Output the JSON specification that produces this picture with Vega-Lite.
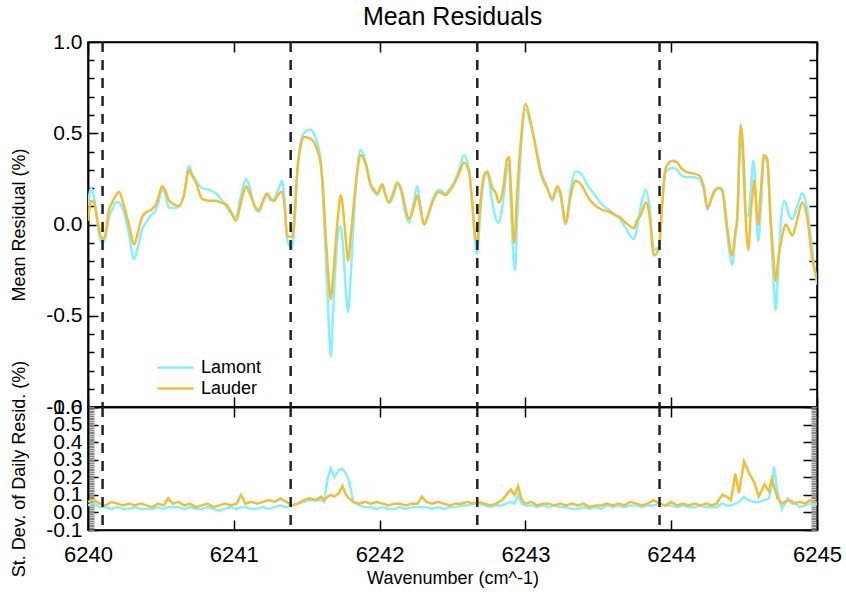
{
  "$schema": "https://vega.github.io/schema/vega-lite/v6.json",
  "title": {"text": "Mean Residuals", "fontSize": 25, "font": "Liberation Sans", "fontWeight": "normal", "color": "black", "offset": 0, "anchor": "middle", "frame": "group"},
  "padding": {"left": 10, "top": 5, "right": 20, "bottom": 5},
  "spacing": 0,
  "bounds": "flush",
  "background": "white",
  "config": {
    "font": "Liberation Sans",
    "view": {"stroke": "black", "strokeWidth": 1.5},
    "axis": {"domainColor": "black", "tickColor": "black", "labelColor": "black", "titleColor": "black", "labelFontSize": 21, "titleFontSize": 18, "titleFontWeight": "normal", "grid": false, "tickSize": -10, "labelPadding": 16, "domainWidth": 1.5, "tickWidth": 1.5, "labelFlush": false, "labelOverlap": false}
  },
  "datasets": {
    "mean": [
      {"w": 6240.000, "Lauder": 0.02, "Lamont": 0.10},
      {"w": 6240.021, "Lauder": 0.13, "Lamont": 0.20},
      {"w": 6240.041, "Lauder": 0.12, "Lamont": 0.15},
      {"w": 6240.075, "Lauder": -0.02, "Lamont": -0.05},
      {"w": 6240.096, "Lauder": -0.08, "Lamont": -0.10},
      {"w": 6240.117, "Lauder": -0.06, "Lamont": -0.08},
      {"w": 6240.144, "Lauder": 0.08, "Lamont": 0.04},
      {"w": 6240.165, "Lauder": 0.12, "Lamont": 0.08},
      {"w": 6240.192, "Lauder": 0.16, "Lamont": 0.12},
      {"w": 6240.213, "Lauder": 0.18, "Lamont": 0.12},
      {"w": 6240.240, "Lauder": 0.12, "Lamont": 0.08},
      {"w": 6240.281, "Lauder": 0.00, "Lamont": -0.05},
      {"w": 6240.316, "Lauder": -0.11, "Lamont": -0.19},
      {"w": 6240.343, "Lauder": -0.04, "Lamont": -0.12},
      {"w": 6240.370, "Lauder": 0.04, "Lamont": -0.03},
      {"w": 6240.405, "Lauder": 0.07, "Lamont": 0.02},
      {"w": 6240.432, "Lauder": 0.08, "Lamont": 0.05},
      {"w": 6240.466, "Lauder": 0.11, "Lamont": 0.08},
      {"w": 6240.487, "Lauder": 0.16, "Lamont": 0.13},
      {"w": 6240.508, "Lauder": 0.21, "Lamont": 0.20},
      {"w": 6240.528, "Lauder": 0.19, "Lamont": 0.17},
      {"w": 6240.556, "Lauder": 0.13, "Lamont": 0.09},
      {"w": 6240.590, "Lauder": 0.11, "Lamont": 0.09},
      {"w": 6240.624, "Lauder": 0.10, "Lamont": 0.10},
      {"w": 6240.658, "Lauder": 0.16, "Lamont": 0.16},
      {"w": 6240.693, "Lauder": 0.30, "Lamont": 0.32},
      {"w": 6240.713, "Lauder": 0.27, "Lamont": 0.28},
      {"w": 6240.741, "Lauder": 0.23, "Lamont": 0.24},
      {"w": 6240.782, "Lauder": 0.14, "Lamont": 0.20},
      {"w": 6240.830, "Lauder": 0.13, "Lamont": 0.19},
      {"w": 6240.878, "Lauder": 0.13, "Lamont": 0.17},
      {"w": 6240.912, "Lauder": 0.12, "Lamont": 0.14},
      {"w": 6240.947, "Lauder": 0.11, "Lamont": 0.10},
      {"w": 6240.981, "Lauder": 0.07, "Lamont": 0.06},
      {"w": 6241.015, "Lauder": 0.02, "Lamont": 0.04},
      {"w": 6241.049, "Lauder": 0.12, "Lamont": 0.16},
      {"w": 6241.084, "Lauder": 0.21, "Lamont": 0.25},
      {"w": 6241.104, "Lauder": 0.18, "Lamont": 0.22},
      {"w": 6241.125, "Lauder": 0.14, "Lamont": 0.15},
      {"w": 6241.152, "Lauder": 0.09, "Lamont": 0.08},
      {"w": 6241.173, "Lauder": 0.08, "Lamont": 0.07},
      {"w": 6241.200, "Lauder": 0.13, "Lamont": 0.12},
      {"w": 6241.228, "Lauder": 0.17, "Lamont": 0.16},
      {"w": 6241.255, "Lauder": 0.14, "Lamont": 0.13},
      {"w": 6241.276, "Lauder": 0.13, "Lamont": 0.14},
      {"w": 6241.310, "Lauder": 0.17, "Lamont": 0.20},
      {"w": 6241.331, "Lauder": 0.18, "Lamont": 0.24},
      {"w": 6241.351, "Lauder": 0.08, "Lamont": 0.10},
      {"w": 6241.365, "Lauder": -0.06, "Lamont": -0.08},
      {"w": 6241.399, "Lauder": -0.07, "Lamont": -0.13},
      {"w": 6241.420, "Lauder": 0.10, "Lamont": 0.05},
      {"w": 6241.433, "Lauder": 0.27, "Lamont": 0.25},
      {"w": 6241.459, "Lauder": 0.43, "Lamont": 0.45},
      {"w": 6241.481, "Lauder": 0.48, "Lamont": 0.50},
      {"w": 6241.527, "Lauder": 0.47, "Lamont": 0.52},
      {"w": 6241.562, "Lauder": 0.43, "Lamont": 0.47},
      {"w": 6241.596, "Lauder": 0.33, "Lamont": 0.35},
      {"w": 6241.612, "Lauder": 0.20, "Lamont": 0.15},
      {"w": 6241.630, "Lauder": -0.06, "Lamont": -0.15},
      {"w": 6241.646, "Lauder": -0.25, "Lamont": -0.45},
      {"w": 6241.665, "Lauder": -0.41, "Lamont": -0.72},
      {"w": 6241.680, "Lauder": -0.30, "Lamont": -0.50},
      {"w": 6241.699, "Lauder": -0.10, "Lamont": -0.20},
      {"w": 6241.715, "Lauder": 0.05, "Lamont": -0.05},
      {"w": 6241.733, "Lauder": 0.16, "Lamont": -0.01},
      {"w": 6241.756, "Lauder": 0.03, "Lamont": -0.20},
      {"w": 6241.770, "Lauder": -0.10, "Lamont": -0.38},
      {"w": 6241.783, "Lauder": -0.20, "Lamont": -0.48},
      {"w": 6241.804, "Lauder": -0.05, "Lamont": -0.25},
      {"w": 6241.824, "Lauder": 0.12, "Lamont": 0.05},
      {"w": 6241.845, "Lauder": 0.28, "Lamont": 0.28},
      {"w": 6241.870, "Lauder": 0.38, "Lamont": 0.41},
      {"w": 6241.905, "Lauder": 0.33, "Lamont": 0.34},
      {"w": 6241.939, "Lauder": 0.22, "Lamont": 0.21},
      {"w": 6241.962, "Lauder": 0.19, "Lamont": 0.18},
      {"w": 6241.984, "Lauder": 0.17, "Lamont": 0.16},
      {"w": 6242.019, "Lauder": 0.22, "Lamont": 0.22},
      {"w": 6242.037, "Lauder": 0.17, "Lamont": 0.17},
      {"w": 6242.064, "Lauder": 0.12, "Lamont": 0.12},
      {"w": 6242.092, "Lauder": 0.17, "Lamont": 0.15},
      {"w": 6242.121, "Lauder": 0.23, "Lamont": 0.22},
      {"w": 6242.156, "Lauder": 0.17, "Lamont": 0.15},
      {"w": 6242.174, "Lauder": 0.10, "Lamont": 0.07},
      {"w": 6242.202, "Lauder": 0.03, "Lamont": 0.01},
      {"w": 6242.229, "Lauder": 0.08, "Lamont": 0.10},
      {"w": 6242.259, "Lauder": 0.16, "Lamont": 0.21},
      {"w": 6242.277, "Lauder": 0.10, "Lamont": 0.12},
      {"w": 6242.305, "Lauder": 0.00, "Lamont": 0.00},
      {"w": 6242.332, "Lauder": 0.05, "Lamont": 0.05},
      {"w": 6242.361, "Lauder": 0.12, "Lamont": 0.13},
      {"w": 6242.407, "Lauder": 0.18, "Lamont": 0.19},
      {"w": 6242.453, "Lauder": 0.16, "Lamont": 0.17},
      {"w": 6242.476, "Lauder": 0.18, "Lamont": 0.19},
      {"w": 6242.510, "Lauder": 0.22, "Lamont": 0.23},
      {"w": 6242.545, "Lauder": 0.28, "Lamont": 0.30},
      {"w": 6242.579, "Lauder": 0.34, "Lamont": 0.38},
      {"w": 6242.613, "Lauder": 0.29, "Lamont": 0.30},
      {"w": 6242.636, "Lauder": 0.12, "Lamont": 0.10},
      {"w": 6242.659, "Lauder": -0.08, "Lamont": -0.13},
      {"w": 6242.670, "Lauder": -0.09, "Lamont": -0.16},
      {"w": 6242.689, "Lauder": 0.10, "Lamont": 0.05},
      {"w": 6242.716, "Lauder": 0.27, "Lamont": 0.25},
      {"w": 6242.739, "Lauder": 0.29, "Lamont": 0.28},
      {"w": 6242.773, "Lauder": 0.20, "Lamont": 0.12},
      {"w": 6242.798, "Lauder": 0.17, "Lamont": 0.03},
      {"w": 6242.819, "Lauder": 0.12, "Lamont": 0.01},
      {"w": 6242.842, "Lauder": 0.17, "Lamont": 0.10},
      {"w": 6242.876, "Lauder": 0.36, "Lamont": 0.31},
      {"w": 6242.888, "Lauder": 0.37, "Lamont": 0.33},
      {"w": 6242.901, "Lauder": 0.20, "Lamont": 0.10},
      {"w": 6242.922, "Lauder": -0.10, "Lamont": -0.22},
      {"w": 6242.929, "Lauder": -0.06, "Lamont": -0.25},
      {"w": 6242.942, "Lauder": 0.15, "Lamont": 0.00},
      {"w": 6242.968, "Lauder": 0.45, "Lamont": 0.40},
      {"w": 6243.002, "Lauder": 0.66, "Lamont": 0.63},
      {"w": 6243.036, "Lauder": 0.56, "Lamont": 0.55},
      {"w": 6243.071, "Lauder": 0.42, "Lamont": 0.43},
      {"w": 6243.105, "Lauder": 0.28, "Lamont": 0.30},
      {"w": 6243.150, "Lauder": 0.20, "Lamont": 0.20},
      {"w": 6243.185, "Lauder": 0.14, "Lamont": 0.13},
      {"w": 6243.219, "Lauder": 0.21, "Lamont": 0.20},
      {"w": 6243.242, "Lauder": 0.17, "Lamont": 0.15},
      {"w": 6243.276, "Lauder": 0.01, "Lamont": 0.00},
      {"w": 6243.311, "Lauder": 0.16, "Lamont": 0.20},
      {"w": 6243.345, "Lauder": 0.24, "Lamont": 0.29},
      {"w": 6243.390, "Lauder": 0.21, "Lamont": 0.27},
      {"w": 6243.422, "Lauder": 0.16, "Lamont": 0.22},
      {"w": 6243.459, "Lauder": 0.12, "Lamont": 0.18},
      {"w": 6243.527, "Lauder": 0.08, "Lamont": 0.11},
      {"w": 6243.573, "Lauder": 0.07, "Lamont": 0.08},
      {"w": 6243.619, "Lauder": 0.05, "Lamont": 0.05},
      {"w": 6243.649, "Lauder": 0.04, "Lamont": 0.03},
      {"w": 6243.688, "Lauder": 0.01, "Lamont": -0.02},
      {"w": 6243.745, "Lauder": -0.02, "Lamont": -0.08},
      {"w": 6243.765, "Lauder": 0.02, "Lamont": -0.02},
      {"w": 6243.791, "Lauder": 0.05, "Lamont": 0.10},
      {"w": 6243.825, "Lauder": 0.12, "Lamont": 0.19},
      {"w": 6243.848, "Lauder": 0.07, "Lamont": 0.12},
      {"w": 6243.882, "Lauder": -0.17, "Lamont": -0.14},
      {"w": 6243.916, "Lauder": -0.13, "Lamont": -0.12},
      {"w": 6243.937, "Lauder": 0.10, "Lamont": 0.10},
      {"w": 6243.962, "Lauder": 0.31, "Lamont": 0.29},
      {"w": 6244.008, "Lauder": 0.35, "Lamont": 0.31},
      {"w": 6244.042, "Lauder": 0.34, "Lamont": 0.30},
      {"w": 6244.067, "Lauder": 0.31, "Lamont": 0.27},
      {"w": 6244.099, "Lauder": 0.29, "Lamont": 0.26},
      {"w": 6244.145, "Lauder": 0.28, "Lamont": 0.26},
      {"w": 6244.191, "Lauder": 0.27, "Lamont": 0.25},
      {"w": 6244.225, "Lauder": 0.20, "Lamont": 0.18},
      {"w": 6244.248, "Lauder": 0.09, "Lamont": 0.08},
      {"w": 6244.282, "Lauder": 0.16, "Lamont": 0.15},
      {"w": 6244.300, "Lauder": 0.19, "Lamont": 0.18},
      {"w": 6244.328, "Lauder": 0.20, "Lamont": 0.20},
      {"w": 6244.350, "Lauder": 0.19, "Lamont": 0.18},
      {"w": 6244.385, "Lauder": -0.02, "Lamont": -0.06},
      {"w": 6244.419, "Lauder": -0.17, "Lamont": -0.22},
      {"w": 6244.438, "Lauder": -0.05, "Lamont": -0.08},
      {"w": 6244.453, "Lauder": 0.03, "Lamont": 0.03},
      {"w": 6244.477, "Lauder": 0.54, "Lamont": 0.55},
      {"w": 6244.499, "Lauder": 0.31, "Lamont": 0.20},
      {"w": 6244.513, "Lauder": 0.00, "Lamont": 0.05},
      {"w": 6244.529, "Lauder": -0.14, "Lamont": 0.05},
      {"w": 6244.547, "Lauder": 0.08, "Lamont": 0.20},
      {"w": 6244.563, "Lauder": 0.20, "Lamont": 0.35},
      {"w": 6244.568, "Lauder": 0.24, "Lamont": 0.33},
      {"w": 6244.597, "Lauder": 0.00, "Lamont": -0.09},
      {"w": 6244.616, "Lauder": 0.20, "Lamont": 0.10},
      {"w": 6244.636, "Lauder": 0.38, "Lamont": 0.37},
      {"w": 6244.659, "Lauder": 0.36, "Lamont": 0.34},
      {"w": 6244.682, "Lauder": 0.03, "Lamont": 0.00},
      {"w": 6244.698, "Lauder": -0.15, "Lamont": -0.25},
      {"w": 6244.717, "Lauder": -0.31, "Lamont": -0.47},
      {"w": 6244.733, "Lauder": -0.20, "Lamont": -0.25},
      {"w": 6244.751, "Lauder": -0.11, "Lamont": 0.00},
      {"w": 6244.774, "Lauder": -0.02, "Lamont": 0.13},
      {"w": 6244.785, "Lauder": 0.00, "Lamont": 0.12},
      {"w": 6244.808, "Lauder": -0.03, "Lamont": 0.05},
      {"w": 6244.831, "Lauder": -0.06, "Lamont": 0.03},
      {"w": 6244.865, "Lauder": 0.03, "Lamont": 0.10},
      {"w": 6244.899, "Lauder": 0.12, "Lamont": 0.17},
      {"w": 6244.934, "Lauder": 0.03, "Lamont": 0.08},
      {"w": 6244.968, "Lauder": -0.19, "Lamont": -0.15},
      {"w": 6245.000, "Lauder": -0.30, "Lamont": -0.33}
    ],
    "sd": [
      {"w": 6240.00, "Lauder": 0.06, "Lamont": 0.04},
      {"w": 6240.04, "Lauder": 0.07, "Lamont": 0.05},
      {"w": 6240.08, "Lauder": 0.05, "Lamont": 0.03},
      {"w": 6240.12, "Lauder": 0.04, "Lamont": 0.03},
      {"w": 6240.16, "Lauder": 0.06, "Lamont": 0.02},
      {"w": 6240.20, "Lauder": 0.05, "Lamont": 0.03},
      {"w": 6240.24, "Lauder": 0.04, "Lamont": 0.02},
      {"w": 6240.28, "Lauder": 0.05, "Lamont": 0.02},
      {"w": 6240.32, "Lauder": 0.04, "Lamont": 0.03},
      {"w": 6240.36, "Lauder": 0.05, "Lamont": 0.02},
      {"w": 6240.40, "Lauder": 0.04, "Lamont": 0.02},
      {"w": 6240.44, "Lauder": 0.03, "Lamont": 0.02},
      {"w": 6240.48, "Lauder": 0.05, "Lamont": 0.03},
      {"w": 6240.52, "Lauder": 0.04, "Lamont": 0.02},
      {"w": 6240.55, "Lauder": 0.08, "Lamont": 0.03},
      {"w": 6240.58, "Lauder": 0.05, "Lamont": 0.03},
      {"w": 6240.62, "Lauder": 0.06, "Lamont": 0.03},
      {"w": 6240.66, "Lauder": 0.04, "Lamont": 0.02},
      {"w": 6240.70, "Lauder": 0.05, "Lamont": 0.03},
      {"w": 6240.74, "Lauder": 0.03, "Lamont": 0.02},
      {"w": 6240.78, "Lauder": 0.04, "Lamont": 0.02},
      {"w": 6240.82, "Lauder": 0.05, "Lamont": 0.03},
      {"w": 6240.86, "Lauder": 0.03, "Lamont": 0.02},
      {"w": 6240.90, "Lauder": 0.04, "Lamont": 0.01},
      {"w": 6240.94, "Lauder": 0.05, "Lamont": 0.02},
      {"w": 6240.98, "Lauder": 0.04, "Lamont": 0.03},
      {"w": 6241.02, "Lauder": 0.05, "Lamont": 0.02},
      {"w": 6241.05, "Lauder": 0.10, "Lamont": 0.03},
      {"w": 6241.08, "Lauder": 0.05, "Lamont": 0.03},
      {"w": 6241.12, "Lauder": 0.06, "Lamont": 0.02},
      {"w": 6241.16, "Lauder": 0.05, "Lamont": 0.02},
      {"w": 6241.20, "Lauder": 0.06, "Lamont": 0.03},
      {"w": 6241.24, "Lauder": 0.07, "Lamont": 0.02},
      {"w": 6241.28, "Lauder": 0.06, "Lamont": 0.03},
      {"w": 6241.32, "Lauder": 0.08, "Lamont": 0.04},
      {"w": 6241.36, "Lauder": 0.06, "Lamont": 0.03},
      {"w": 6241.40, "Lauder": 0.04, "Lamont": 0.04},
      {"w": 6241.44, "Lauder": 0.05, "Lamont": 0.05},
      {"w": 6241.48, "Lauder": 0.07, "Lamont": 0.06},
      {"w": 6241.52, "Lauder": 0.08, "Lamont": 0.07},
      {"w": 6241.56, "Lauder": 0.07, "Lamont": 0.07},
      {"w": 6241.60, "Lauder": 0.09, "Lamont": 0.07},
      {"w": 6241.62, "Lauder": 0.07, "Lamont": 0.06},
      {"w": 6241.645, "Lauder": 0.09, "Lamont": 0.20},
      {"w": 6241.665, "Lauder": 0.10, "Lamont": 0.25},
      {"w": 6241.69, "Lauder": 0.09, "Lamont": 0.20},
      {"w": 6241.72, "Lauder": 0.11, "Lamont": 0.24},
      {"w": 6241.745, "Lauder": 0.15, "Lamont": 0.25},
      {"w": 6241.77, "Lauder": 0.10, "Lamont": 0.22},
      {"w": 6241.79, "Lauder": 0.08, "Lamont": 0.18},
      {"w": 6241.82, "Lauder": 0.06, "Lamont": 0.06},
      {"w": 6241.86, "Lauder": 0.05, "Lamont": 0.04},
      {"w": 6241.90, "Lauder": 0.06, "Lamont": 0.03},
      {"w": 6241.94, "Lauder": 0.05, "Lamont": 0.03},
      {"w": 6241.98, "Lauder": 0.06, "Lamont": 0.02},
      {"w": 6242.02, "Lauder": 0.05, "Lamont": 0.03},
      {"w": 6242.06, "Lauder": 0.04, "Lamont": 0.02},
      {"w": 6242.10, "Lauder": 0.05, "Lamont": 0.02},
      {"w": 6242.14, "Lauder": 0.05, "Lamont": 0.03},
      {"w": 6242.18, "Lauder": 0.04, "Lamont": 0.02},
      {"w": 6242.22, "Lauder": 0.05, "Lamont": 0.03},
      {"w": 6242.26, "Lauder": 0.05, "Lamont": 0.03},
      {"w": 6242.29, "Lauder": 0.09, "Lamont": 0.03},
      {"w": 6242.32, "Lauder": 0.06, "Lamont": 0.03},
      {"w": 6242.36, "Lauder": 0.05, "Lamont": 0.02},
      {"w": 6242.40, "Lauder": 0.06, "Lamont": 0.03},
      {"w": 6242.44, "Lauder": 0.05, "Lamont": 0.02},
      {"w": 6242.48, "Lauder": 0.04, "Lamont": 0.03},
      {"w": 6242.52, "Lauder": 0.05, "Lamont": 0.03},
      {"w": 6242.56, "Lauder": 0.05, "Lamont": 0.04},
      {"w": 6242.60, "Lauder": 0.06, "Lamont": 0.04},
      {"w": 6242.64, "Lauder": 0.05, "Lamont": 0.05},
      {"w": 6242.68, "Lauder": 0.06, "Lamont": 0.05},
      {"w": 6242.72, "Lauder": 0.05, "Lamont": 0.04},
      {"w": 6242.76, "Lauder": 0.04, "Lamont": 0.03},
      {"w": 6242.80, "Lauder": 0.05, "Lamont": 0.04},
      {"w": 6242.84, "Lauder": 0.07, "Lamont": 0.04},
      {"w": 6242.87, "Lauder": 0.10, "Lamont": 0.05},
      {"w": 6242.90, "Lauder": 0.13, "Lamont": 0.06},
      {"w": 6242.925, "Lauder": 0.10, "Lamont": 0.05},
      {"w": 6242.95, "Lauder": 0.15, "Lamont": 0.10},
      {"w": 6242.975, "Lauder": 0.07, "Lamont": 0.05},
      {"w": 6243.00, "Lauder": 0.05, "Lamont": 0.04},
      {"w": 6243.04, "Lauder": 0.06, "Lamont": 0.04},
      {"w": 6243.08, "Lauder": 0.04, "Lamont": 0.03},
      {"w": 6243.12, "Lauder": 0.05, "Lamont": 0.04},
      {"w": 6243.16, "Lauder": 0.05, "Lamont": 0.03},
      {"w": 6243.20, "Lauder": 0.04, "Lamont": 0.04},
      {"w": 6243.24, "Lauder": 0.05, "Lamont": 0.03},
      {"w": 6243.28, "Lauder": 0.04, "Lamont": 0.03},
      {"w": 6243.32, "Lauder": 0.05, "Lamont": 0.02},
      {"w": 6243.36, "Lauder": 0.04, "Lamont": 0.02},
      {"w": 6243.40, "Lauder": 0.05, "Lamont": 0.03},
      {"w": 6243.44, "Lauder": 0.03, "Lamont": 0.02},
      {"w": 6243.48, "Lauder": 0.04, "Lamont": 0.03},
      {"w": 6243.52, "Lauder": 0.04, "Lamont": 0.02},
      {"w": 6243.56, "Lauder": 0.05, "Lamont": 0.04},
      {"w": 6243.60, "Lauder": 0.04, "Lamont": 0.03},
      {"w": 6243.64, "Lauder": 0.05, "Lamont": 0.04},
      {"w": 6243.68, "Lauder": 0.04, "Lamont": 0.03},
      {"w": 6243.72, "Lauder": 0.06, "Lamont": 0.04},
      {"w": 6243.76, "Lauder": 0.05, "Lamont": 0.04},
      {"w": 6243.80, "Lauder": 0.04, "Lamont": 0.03},
      {"w": 6243.84, "Lauder": 0.05, "Lamont": 0.04},
      {"w": 6243.88, "Lauder": 0.07, "Lamont": 0.04},
      {"w": 6243.92, "Lauder": 0.05, "Lamont": 0.05},
      {"w": 6243.96, "Lauder": 0.04, "Lamont": 0.04},
      {"w": 6244.00, "Lauder": 0.06, "Lamont": 0.04},
      {"w": 6244.04, "Lauder": 0.04, "Lamont": 0.03},
      {"w": 6244.08, "Lauder": 0.05, "Lamont": 0.04},
      {"w": 6244.12, "Lauder": 0.04, "Lamont": 0.03},
      {"w": 6244.16, "Lauder": 0.05, "Lamont": 0.03},
      {"w": 6244.20, "Lauder": 0.04, "Lamont": 0.04},
      {"w": 6244.24, "Lauder": 0.05, "Lamont": 0.03},
      {"w": 6244.28, "Lauder": 0.04, "Lamont": 0.03},
      {"w": 6244.31, "Lauder": 0.05, "Lamont": 0.03},
      {"w": 6244.35, "Lauder": 0.10, "Lamont": 0.05},
      {"w": 6244.38, "Lauder": 0.09, "Lamont": 0.04},
      {"w": 6244.41, "Lauder": 0.07, "Lamont": 0.04},
      {"w": 6244.44, "Lauder": 0.22, "Lamont": 0.05},
      {"w": 6244.465, "Lauder": 0.11, "Lamont": 0.06},
      {"w": 6244.50, "Lauder": 0.29, "Lamont": 0.09},
      {"w": 6244.53, "Lauder": 0.23, "Lamont": 0.07},
      {"w": 6244.57, "Lauder": 0.17, "Lamont": 0.06},
      {"w": 6244.60, "Lauder": 0.09, "Lamont": 0.06},
      {"w": 6244.64, "Lauder": 0.16, "Lamont": 0.07},
      {"w": 6244.67, "Lauder": 0.12, "Lamont": 0.08},
      {"w": 6244.69, "Lauder": 0.19, "Lamont": 0.15},
      {"w": 6244.705, "Lauder": 0.15, "Lamont": 0.26},
      {"w": 6244.73, "Lauder": 0.08, "Lamont": 0.11},
      {"w": 6244.76, "Lauder": 0.05, "Lamont": 0.02},
      {"w": 6244.80, "Lauder": 0.07, "Lamont": 0.08},
      {"w": 6244.84, "Lauder": 0.05, "Lamont": 0.06},
      {"w": 6244.88, "Lauder": 0.06, "Lamont": 0.03},
      {"w": 6244.92, "Lauder": 0.05, "Lamont": 0.04},
      {"w": 6244.95, "Lauder": 0.07, "Lamont": 0.05},
      {"w": 6244.98, "Lauder": 0.06, "Lamont": 0.04},
      {"w": 6245.00, "Lauder": 0.05, "Lamont": 0.05}
    ],
    "bounds": [
      {"x": 6240.10},
      {"x": 6241.39},
      {"x": 6242.67},
      {"x": 6243.92}
    ]
  },
  "vconcat": [
    {
      "width": 729,
      "height": 365,
      "resolve": {"axis": {"x": "independent", "y": "independent"}},
      "layer": [
        {
          "data": {"name": "mean"},
          "transform": [{"fold": ["Lamont", "Lauder"], "as": ["series", "v"]}],
          "mark": {"type": "line", "strokeWidth": 2.5, "interpolate": "monotone", "clip": true},
          "encoding": {
            "x": {"field": "w", "type": "quantitative", "scale": {"domain": [6240, 6245], "nice": false, "zero": false},
                  "axis": {"orient": "bottom", "values": [6240, 6241, 6242, 6243, 6244, 6245], "labels": false, "title": null}},
            "y": {"field": "v", "type": "quantitative", "scale": {"domain": [-1, 1], "nice": false},
                  "axis": {"orient": "left", "values": [-1, -0.5, 0, 0.5, 1], "format": ".1f", "labelExpr": "replace(datum.label, '−', '-')", "title": "Mean Residual (%)", "titlePadding": 17}},
            "color": {"field": "series", "type": "nominal",
                      "scale": {"domain": ["Lamont", "Lauder"], "range": ["#85F0FF", "#F2BE35"]},
                      "legend": {"title": null, "orient": "none", "legendX": 68, "legendY": 319, "symbolType": "stroke", "symbolStrokeWidth": 2.5, "symbolSize": 1300, "labelFontSize": 18, "labelColor": "black", "clipHeight": 13, "rowPadding": 2, "labelOffset": 6}},
            "order": {"field": "series"}
          }
        },
        {
          "data": {"name": "bounds"},
          "mark": {"type": "rule", "color": "#222222", "strokeWidth": 2.5, "strokeDash": [10, 8]},
          "encoding": {"x": {"field": "x", "type": "quantitative", "axis": null}}
        },
        {
          "data": {"name": "mean"},
          "mark": {"type": "point", "opacity": 0},
          "encoding": {
            "x": {"field": "w", "type": "quantitative", "axis": {"orient": "top", "values": [6240, 6241, 6242, 6243, 6244, 6245], "labels": false, "title": null}},
            "y": {"field": "Lauder", "type": "quantitative", "axis": {"orient": "right", "values": [-1, -0.9, -0.8, -0.7, -0.6, -0.5, -0.4, -0.3, -0.2, -0.1, 0, 0.1, 0.2, 0.3, 0.4, 0.5, 0.6, 0.7, 0.8, 0.9, 1], "labels": false, "title": null, "tickSize": -8}}
          }
        },
        {
          "data": {"name": "mean"},
          "mark": {"type": "point", "opacity": 0},
          "encoding": {
            "x": {"field": "w", "type": "quantitative", "axis": null},
            "y": {"field": "Lauder", "type": "quantitative", "axis": {"orient": "left", "values": [-0.9, -0.8, -0.7, -0.6, -0.4, -0.3, -0.2, -0.1, 0.1, 0.2, 0.3, 0.4, 0.6, 0.7, 0.8, 0.9], "labels": false, "title": null, "tickSize": -6}}
          }
        }
      ]
    },
    {
      "width": 729,
      "height": 123,
      "resolve": {"axis": {"x": "independent", "y": "independent"}},
      "layer": [
        {
          "data": {"name": "sd"},
          "transform": [{"fold": ["Lamont", "Lauder"], "as": ["series", "v"]}],
          "mark": {"type": "line", "strokeWidth": 2.5, "clip": true},
          "encoding": {
            "x": {"field": "w", "type": "quantitative", "scale": {"domain": [6240, 6245], "nice": false, "zero": false},
                  "axis": {"orient": "bottom", "values": [6240, 6241, 6242, 6243, 6244, 6245], "format": "d", "labelFontSize": 22, "labelPadding": 24, "title": "Wavenumber (cm^-1)", "titlePadding": 4}},
            "y": {"field": "v", "type": "quantitative", "scale": {"domain": [-0.1, 0.6], "nice": false},
                  "axis": {"orient": "left", "values": [-0.1, 0, 0.1, 0.2, 0.3, 0.4, 0.5, 0.6], "format": ".1f", "labelExpr": "replace(datum.label, '−', '-')", "title": "St. Dev. of Daily Resid. (%)", "titlePadding": 17, "tickSize": -10}},
            "color": {"field": "series", "type": "nominal",
                      "scale": {"domain": ["Lamont", "Lauder"], "range": ["#85F0FF", "#F2BE35"]}, "legend": null},
            "order": {"field": "series"}
          }
        },
        {
          "data": {"name": "bounds"},
          "mark": {"type": "rule", "color": "#222222", "strokeWidth": 2.5, "strokeDash": [10, 8]},
          "encoding": {"x": {"field": "x", "type": "quantitative", "axis": null}}
        },
        {
          "data": {"name": "sd"},
          "mark": {"type": "point", "opacity": 0},
          "encoding": {
            "x": {"field": "w", "type": "quantitative", "axis": {"orient": "top", "values": [6240, 6241, 6242, 6243, 6244, 6245], "labels": false, "title": null}},
            "y": {"field": "Lauder", "type": "quantitative", "axis": {"orient": "right", "values": [-0.1, 0, 0.1, 0.2, 0.3, 0.4, 0.5, 0.6], "labels": false, "title": null, "tickSize": -14}}
          }
        },
        {
          "data": {"name": "sd"},
          "mark": {"type": "point", "opacity": 0},
          "encoding": {
            "x": {"field": "w", "type": "quantitative", "axis": null},
            "y": {"field": "Lauder", "type": "quantitative", "axis": {"orient": "left", "values": [-0.1, -0.09, -0.08, -0.07, -0.06, -0.05, -0.04, -0.03, -0.02, -0.01, 0, 0.01, 0.02, 0.03, 0.04, 0.05, 0.06, 0.07, 0.08, 0.09, 0.1, 0.11, 0.12, 0.13, 0.14, 0.15, 0.16, 0.17, 0.18, 0.19, 0.2, 0.21, 0.22, 0.23, 0.24, 0.25, 0.26, 0.27, 0.28, 0.29, 0.3, 0.31, 0.32, 0.33, 0.34, 0.35, 0.36, 0.37, 0.38, 0.39, 0.4, 0.41, 0.42, 0.43, 0.44, 0.45, 0.46, 0.47, 0.48, 0.49, 0.5, 0.51, 0.52, 0.53, 0.54, 0.55, 0.56, 0.57, 0.58, 0.59, 0.6], "labels": false, "title": null, "tickSize": -6, "tickColor": "#888888"}}
          }
        },
        {
          "data": {"name": "sd"},
          "mark": {"type": "point", "opacity": 0},
          "encoding": {
            "x": {"field": "w", "type": "quantitative", "axis": null},
            "y": {"field": "Lauder", "type": "quantitative", "axis": {"orient": "right", "values": [-0.1, -0.09, -0.08, -0.07, -0.06, -0.05, -0.04, -0.03, -0.02, -0.01, 0, 0.01, 0.02, 0.03, 0.04, 0.05, 0.06, 0.07, 0.08, 0.09, 0.1, 0.11, 0.12, 0.13, 0.14, 0.15, 0.16, 0.17, 0.18, 0.19, 0.2, 0.21, 0.22, 0.23, 0.24, 0.25, 0.26, 0.27, 0.28, 0.29, 0.3, 0.31, 0.32, 0.33, 0.34, 0.35, 0.36, 0.37, 0.38, 0.39, 0.4, 0.41, 0.42, 0.43, 0.44, 0.45, 0.46, 0.47, 0.48, 0.49, 0.5, 0.51, 0.52, 0.53, 0.54, 0.55, 0.56, 0.57, 0.58, 0.59, 0.6], "labels": false, "title": null, "tickSize": -6, "tickColor": "#888888"}}
          }
        }
      ]
    }
  ]
}
